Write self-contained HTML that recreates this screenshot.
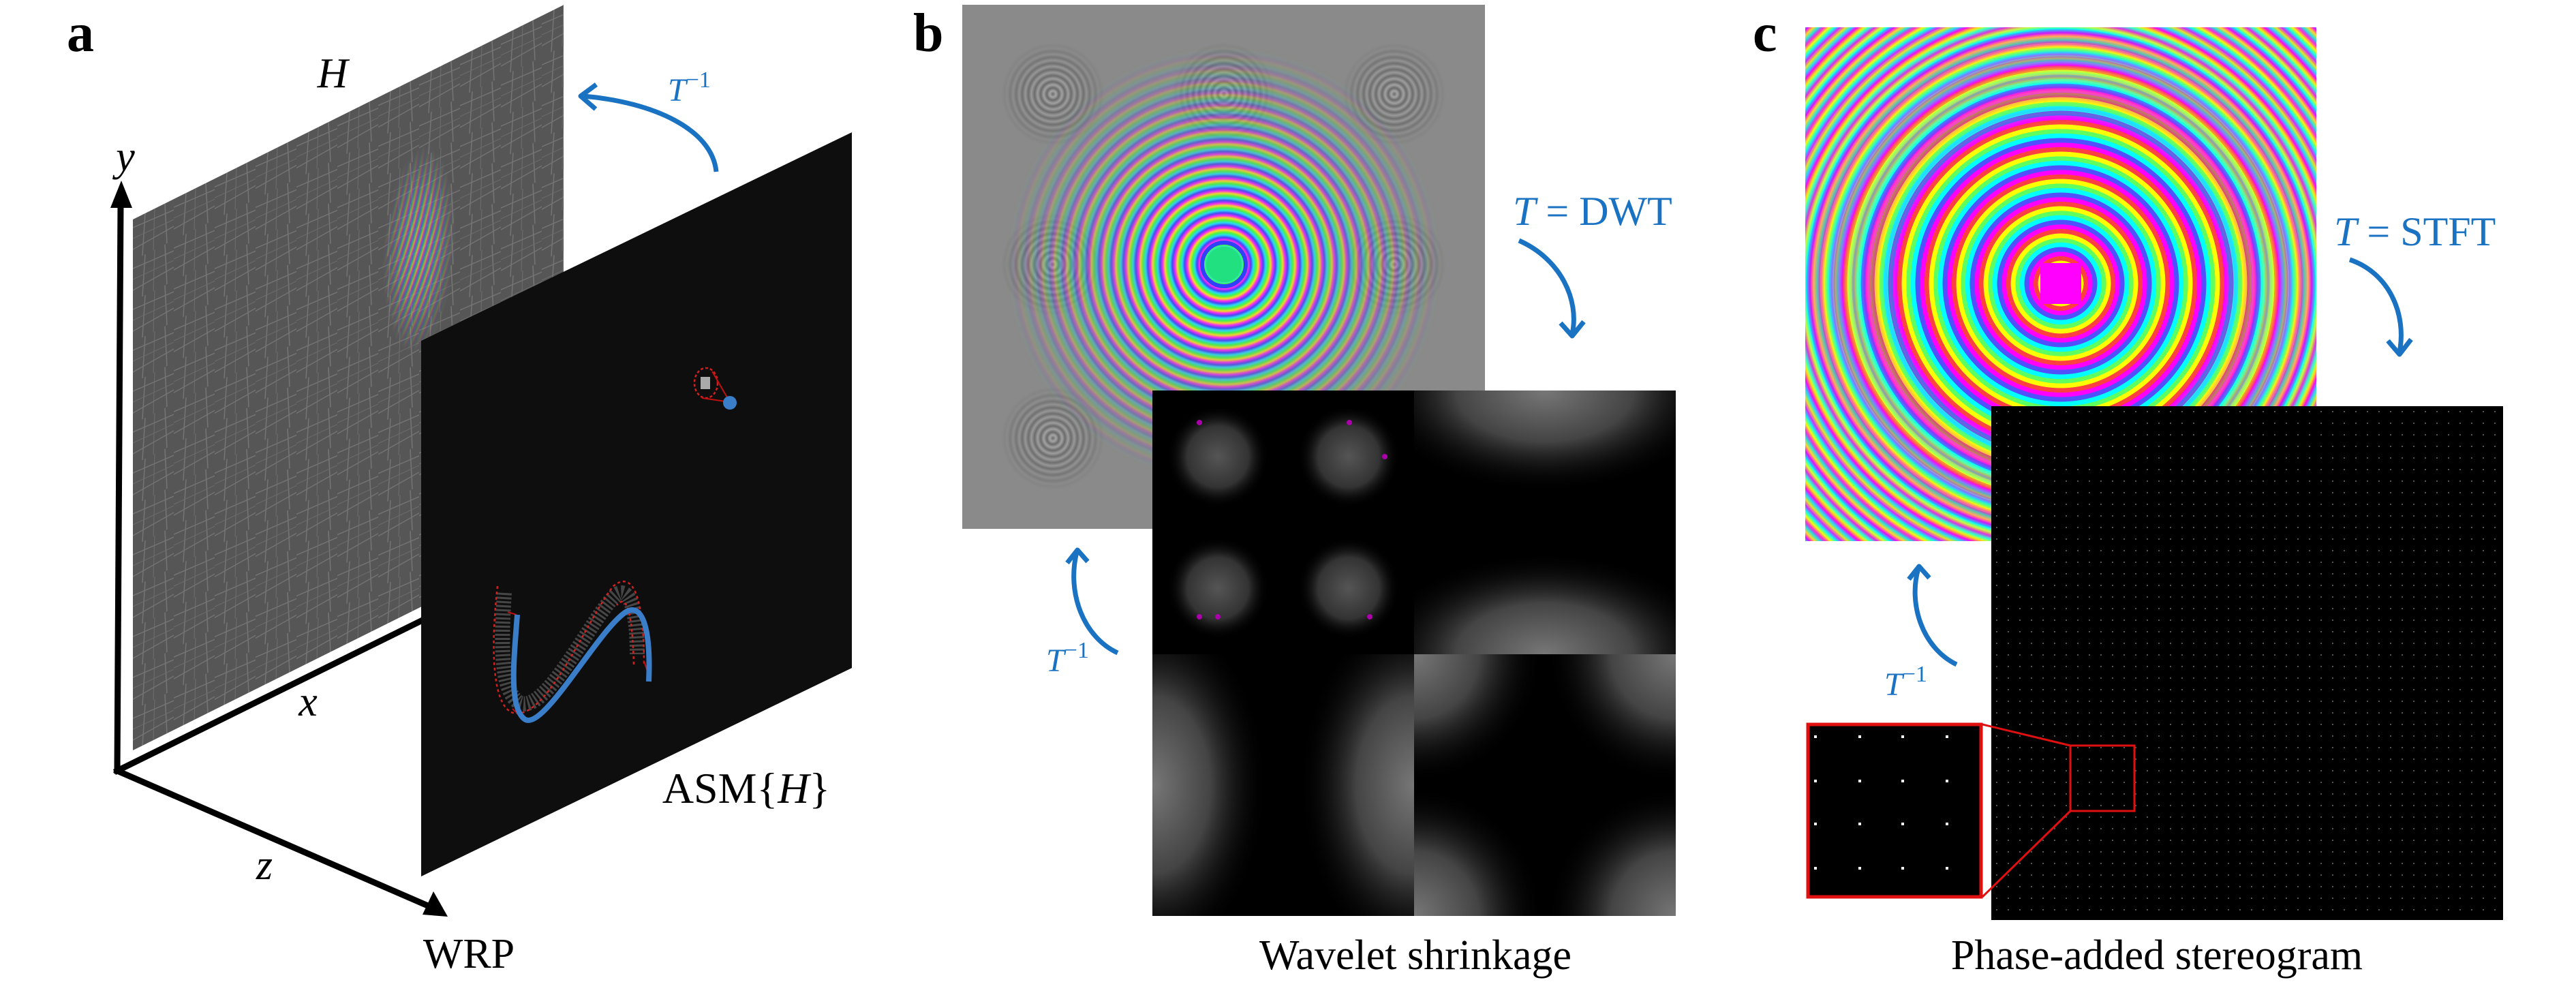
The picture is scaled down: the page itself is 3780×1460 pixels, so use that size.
<!DOCTYPE html>
<html><head><meta charset="utf-8"><style>
html,body{margin:0;padding:0;background:#fff;overflow:hidden;width:3780px;height:1460px;}
svg{display:block;}
text{font-family:"Liberation Serif",serif;}
</style></head><body>
<svg width="3780" height="1460" viewBox="0 0 3780 1460" xmlns="http://www.w3.org/2000/svg">
<defs>
  <pattern id="scratch" width="60" height="60" patternUnits="userSpaceOnUse">
    <rect width="60" height="60" fill="#565656"/>
    <path d="M0 12 L60 16 M0 44 L60 40 M18 0 L14 60 M47 0 L50 60" stroke="#8a8a8a" stroke-width="1.5" opacity="0.6"/>
    <path d="M0 28 L60 30 M32 0 L30 60" stroke="#6e6e6e" stroke-width="1"/>
  </pattern>
  <radialGradient id="rainH" gradientUnits="userSpaceOnUse" cx="0" cy="0" r="14" spreadMethod="repeat">
    <stop offset="0" stop-color="#e03ac0"/><stop offset="0.25" stop-color="#3a6ae0"/>
    <stop offset="0.5" stop-color="#30c070"/><stop offset="0.75" stop-color="#e0c030"/><stop offset="1" stop-color="#e03ac0"/>
  </radialGradient>
  <radialGradient id="fadeH" cx="0.5" cy="0.5" r="0.5">
    <stop offset="0" stop-color="#fff"/><stop offset="0.5" stop-color="#fff" stop-opacity="0.7"/><stop offset="1" stop-color="#fff" stop-opacity="0"/>
  </radialGradient>
  <mask id="mH1" maskUnits="userSpaceOnUse" x="-500" y="-500" width="2000" height="2000"><ellipse cx="420" cy="253" rx="90" ry="150" fill="url(#fadeH)"/></mask>
  <mask id="mH2" maskUnits="userSpaceOnUse" x="-500" y="-500" width="2000" height="2000"><ellipse cx="140" cy="470" rx="80" ry="110" fill="url(#fadeH)"/><ellipse cx="300" cy="430" rx="70" ry="100" fill="url(#fadeH)"/></mask>

  <radialGradient id="rainB" gradientUnits="userSpaceOnUse" cx="1796" cy="388" r="18" spreadMethod="repeat">
    <stop offset="0" stop-color="#ff20ff"/><stop offset="0.2" stop-color="#4040ff"/><stop offset="0.4" stop-color="#20e0ff"/>
    <stop offset="0.6" stop-color="#40ff40"/><stop offset="0.8" stop-color="#ffe020"/><stop offset="1" stop-color="#ff20ff"/>
  </radialGradient>
  <radialGradient id="fadeB" cx="0.5" cy="0.5" r="0.5">
    <stop offset="0" stop-color="#fff"/><stop offset="0.35" stop-color="#fff" stop-opacity="0.85"/><stop offset="1" stop-color="#fff" stop-opacity="0"/>
  </radialGradient>
  <mask id="mB" maskUnits="userSpaceOnUse" x="1412" y="7" width="767" height="769"><circle cx="1796" cy="388" r="320" fill="url(#fadeB)"/></mask>
  <radialGradient id="grayRing" r="0.5" cx="0.5" cy="0.5" spreadMethod="repeat" gradientTransform="scale(0.12) translate(3.666,3.666)">
    <stop offset="0" stop-color="#6a6a6a"/><stop offset="0.5" stop-color="#a8a8a8"/><stop offset="1" stop-color="#6a6a6a"/>
  </radialGradient>
  <radialGradient id="spotFade" cx="0.5" cy="0.5" r="0.5">
    <stop offset="0" stop-color="#fff"/><stop offset="0.6" stop-color="#fff" stop-opacity="0.6"/><stop offset="1" stop-color="#fff" stop-opacity="0"/>
  </radialGradient>
  <mask id="mSpots" maskUnits="userSpaceOnUse" x="1412" y="7" width="767" height="769">
    <circle cx="1545" cy="138" r="75" fill="url(#spotFade)"/><circle cx="1796" cy="138" r="75" fill="url(#spotFade)"/>
    <circle cx="2046" cy="138" r="75" fill="url(#spotFade)"/><circle cx="1545" cy="388" r="75" fill="url(#spotFade)"/>
    <circle cx="2046" cy="388" r="75" fill="url(#spotFade)"/><circle cx="1545" cy="643" r="75" fill="url(#spotFade)"/>
  </mask>
  <radialGradient id="glow" cx="0.5" cy="0.5" r="0.5">
    <stop offset="0" stop-color="#777"/><stop offset="0.5" stop-color="#444"/><stop offset="1" stop-color="#000" stop-opacity="0"/>
  </radialGradient>
  <radialGradient id="glow2" cx="0.5" cy="0.5" r="0.5">
    <stop offset="0" stop-color="#555"/><stop offset="0.6" stop-color="#333"/><stop offset="1" stop-color="#000" stop-opacity="0"/>
  </radialGradient>

  <radialGradient id="rainC" gradientUnits="userSpaceOnUse" cx="3024" cy="416" r="40" spreadMethod="repeat">
    <stop offset="0" stop-color="#ff00ff"/><stop offset="0.16" stop-color="#ff00ff"/>
    <stop offset="0.17" stop-color="#5050ff"/><stop offset="0.33" stop-color="#5050ff"/>
    <stop offset="0.34" stop-color="#00ffff"/><stop offset="0.5" stop-color="#00ffff"/>
    <stop offset="0.51" stop-color="#60ff60"/><stop offset="0.66" stop-color="#60ff60"/>
    <stop offset="0.67" stop-color="#ffff00"/><stop offset="0.83" stop-color="#ffff00"/>
    <stop offset="0.84" stop-color="#ff4040"/><stop offset="1" stop-color="#ff4040"/>
  </radialGradient>
  <radialGradient id="rainC2" gradientUnits="userSpaceOnUse" cx="3024" cy="416" r="16" spreadMethod="repeat">
    <stop offset="0" stop-color="#ff00ff"/><stop offset="0.33" stop-color="#00ffff"/>
    <stop offset="0.66" stop-color="#ffff00"/><stop offset="1" stop-color="#ff00ff"/>
  </radialGradient>
  <radialGradient id="fadeC" cx="0.5" cy="0.5" r="0.5">
    <stop offset="0" stop-color="#000"/><stop offset="0.4" stop-color="#000"/><stop offset="0.7" stop-color="#fff"/><stop offset="1" stop-color="#fff"/>
  </radialGradient>
  <mask id="mC" maskUnits="userSpaceOnUse" x="2649" y="40" width="750" height="754"><circle cx="3024" cy="416" r="560" fill="url(#fadeC)"/></mask>
  <pattern id="dots" x="2922" y="596" width="17" height="17" patternUnits="userSpaceOnUse">
    <rect width="17" height="17" fill="#000"/><rect x="7" y="7" width="2" height="2" fill="#555"/>
  </pattern>
</defs>

<!-- ============ Panel a ============ -->
<text x="98" y="75" font-size="80" font-weight="bold">a</text>

<g transform="translate(195,322) skewY(-26.47)">
  <rect x="0" y="0" width="632" height="779" fill="url(#scratch)"/>
  <rect x="0" y="0" width="632" height="779" fill="url(#rainH)" transform="translate(420,253) scale(0.6,1) translate(-420,-253)" mask="url(#mH1)" opacity="0.9"/>
  <g mask="url(#mH2)" opacity="0.75">
    <rect x="0" y="300" width="632" height="300" fill="url(#rainH)" transform="translate(140,470)"/>
  </g>
</g>

<g stroke="#000" stroke-width="9" fill="none" stroke-linecap="square">
  <line x1="172" y1="1131" x2="177" y2="300"/>
  <line x1="172" y1="1131" x2="620" y2="910"/>
  <line x1="172" y1="1131" x2="630" y2="1330"/>
</g>
<polygon points="178,265 162,305 194,305" fill="#000"/>
<polygon points="657,1345 620,1342 636,1308" fill="#000"/>

<g transform="translate(618,500) skewY(-25.83)">
  <rect x="0" y="0" width="632" height="786" fill="#0e0e0e"/>
</g>
<path d="M740,870 C735,950 735,1010 760,1030 C800,1055 870,900 905,872 C925,860 935,900 935,960" stroke="#555" stroke-width="22" fill="none" stroke-dasharray="3 3" opacity="0.8"/>
<path d="M730,860 C720,950 722,1030 750,1045 C800,1065 860,910 900,860 C930,835 945,880 945,975 M930,975 C928,900 920,870 905,888" stroke="#d02020" stroke-width="2.5" fill="none" stroke-dasharray="4 4"/>
<path d="M752,1040 L770,1057 M945,970 L955,1000 M745,898 L758,902" stroke="#c01010" stroke-width="2" fill="none"/>
<path d="M759,902 C755,960 745,1040 771,1056 C800,1070 880,920 920,897 C945,885 955,930 952,1000" stroke="#3a7dc8" stroke-width="8" fill="none"/>
<rect x="1028" y="553" width="14" height="18" fill="#aaa"/>
<ellipse cx="1036" cy="562" rx="17" ry="22" fill="none" stroke="#d02020" stroke-width="2.5" stroke-dasharray="4 3"/>
<path d="M1045,545 L1071,590 L1030,584" stroke="#c01010" stroke-width="2" fill="none"/>
<circle cx="1071" cy="591" r="10" fill="#3a7dc8"/>

<path d="M1051,252 C1045,190 960,150 856,141" stroke="#1a72c2" stroke-width="7" fill="none"/>
<polyline points="875,124 852,141 874,160" stroke="#1a72c2" stroke-width="7" fill="none" stroke-linejoin="round"/>
<text x="980" y="148" font-size="48" fill="#1a72c2" font-style="italic">T<tspan font-style="normal" font-size="34" dy="-20">−1</tspan></text>

<text x="488" y="128" font-size="62" font-style="italic" text-anchor="middle">H</text>
<text x="184" y="250" font-size="62" font-style="italic" text-anchor="middle">y</text>
<text x="452" y="1050" font-size="62" font-style="italic" text-anchor="middle">x</text>
<text x="388" y="1290" font-size="62" font-style="italic" text-anchor="middle">z</text>
<text x="1095" y="1178" font-size="64" text-anchor="middle">ASM{<tspan font-style="italic">H</tspan>}</text>
<text x="688" y="1420" font-size="62" text-anchor="middle">WRP</text>

<!-- ============ Panel b ============ -->
<text x="1340" y="75" font-size="80" font-weight="bold">b</text>
<rect x="1412" y="7" width="767" height="769" fill="#8a8a8a"/>
<rect x="1412" y="7" width="767" height="769" fill="#6e6e6e" mask="url(#mSpots)"/>
<g mask="url(#mSpots)">
  <circle cx="1545" cy="138" r="75" fill="url(#grayRing)"/>
  <circle cx="1796" cy="138" r="75" fill="url(#grayRing)"/>
  <circle cx="2046" cy="138" r="75" fill="url(#grayRing)"/>
  <circle cx="1545" cy="388" r="75" fill="url(#grayRing)"/>
  <circle cx="2046" cy="388" r="75" fill="url(#grayRing)"/>
  <circle cx="1545" cy="643" r="75" fill="url(#grayRing)"/>
</g>
<rect x="1412" y="7" width="767" height="769" fill="url(#rainB)" mask="url(#mB)"/>
<circle cx="1796" cy="388" r="26" fill="#20e080"/>
<circle cx="1796" cy="388" r="32" fill="none" stroke="#3040ff" stroke-width="6"/>

<rect x="1691" y="573" width="768" height="771" fill="#000"/>
<rect x="1712" y="595" width="150" height="150" fill="url(#glow2)"/>
<rect x="1904" y="595" width="150" height="150" fill="url(#glow2)"/>
<rect x="1712" y="788" width="150" height="150" fill="url(#glow2)"/>
<rect x="1904" y="788" width="150" height="150" fill="url(#glow2)"/>
<g fill="#a0a"><circle cx="1760" cy="620" r="4"/><circle cx="1980" cy="620" r="4"/><circle cx="1760" cy="905" r="4"/><circle cx="2010" cy="905" r="4"/><circle cx="2032" cy="670" r="4"/><circle cx="1787" cy="905" r="4"/></g>
<svg x="2075" y="573" width="384" height="387" overflow="hidden">
  <ellipse cx="192" cy="0" rx="260" ry="150" fill="url(#glow)"/>
  <ellipse cx="192" cy="387" rx="260" ry="150" fill="url(#glow)"/>
</svg>
<svg x="1691" y="960" width="384" height="384" overflow="hidden">
  <ellipse cx="0" cy="192" rx="170" ry="260" fill="url(#glow)"/>
  <ellipse cx="384" cy="192" rx="170" ry="260" fill="url(#glow)"/>
</svg>
<svg x="2075" y="960" width="384" height="384" overflow="hidden">
  <circle cx="0" cy="0" r="190" fill="url(#glow)"/>
  <circle cx="384" cy="0" r="190" fill="url(#glow)"/>
  <circle cx="0" cy="384" r="190" fill="url(#glow)"/>
  <circle cx="384" cy="384" r="190" fill="url(#glow)"/>
</svg>

<path d="M2229,353 C2290,380 2318,440 2307,490" stroke="#1a72c2" stroke-width="7" fill="none"/>
<polyline points="2290,474 2307,493 2324,472" stroke="#1a72c2" stroke-width="7" fill="none" stroke-linejoin="round"/>
<text x="2220" y="330" font-size="60" fill="#1a72c2"><tspan font-style="italic">T</tspan> = DWT</text>
<path d="M1640,958 C1590,935 1565,870 1580,810" stroke="#1a72c2" stroke-width="7" fill="none"/>
<polyline points="1566,826 1581,807 1596,824" stroke="#1a72c2" stroke-width="7" fill="none" stroke-linejoin="round"/>
<text x="1535" y="985" font-size="48" fill="#1a72c2" font-style="italic">T<tspan font-style="normal" font-size="34" dy="-20">−1</tspan></text>
<text x="2077" y="1422" font-size="62" text-anchor="middle">Wavelet shrinkage</text>

<!-- ============ Panel c ============ -->
<text x="2572" y="75" font-size="80" font-weight="bold">c</text>
<rect x="2649" y="40" width="750" height="754" fill="url(#rainC)"/>
<rect x="2649" y="40" width="750" height="754" fill="url(#rainC2)" mask="url(#mC)" opacity="0.85"/>
<rect x="2994" y="386" width="60" height="60" fill="#ff00ff"/>

<rect x="2922" y="596" width="751" height="754" fill="url(#dots)"/>
<rect x="3038" y="1094" width="94" height="96" fill="none" stroke="#e01010" stroke-width="3"/>
<line x1="2909" y1="1063" x2="3038" y2="1094" stroke="#e01010" stroke-width="3"/>
<line x1="2909" y1="1316" x2="3038" y2="1190" stroke="#e01010" stroke-width="3"/>
<rect x="2653" y="1063" width="254" height="253" fill="#000" stroke="#e01010" stroke-width="5"/>
<g fill="#fff">
  <rect x="2662" y="1079" width="4" height="4"/><rect x="2727" y="1079" width="4" height="4"/><rect x="2790" y="1079" width="4" height="4"/><rect x="2855" y="1079" width="4" height="4"/>
  <rect x="2662" y="1144" width="4" height="4"/><rect x="2727" y="1144" width="4" height="4"/><rect x="2790" y="1144" width="4" height="4"/><rect x="2855" y="1144" width="4" height="4"/>
  <rect x="2662" y="1207" width="4" height="4"/><rect x="2727" y="1207" width="4" height="4"/><rect x="2790" y="1207" width="4" height="4"/><rect x="2855" y="1207" width="4" height="4"/>
  <rect x="2662" y="1272" width="4" height="4"/><rect x="2727" y="1272" width="4" height="4"/><rect x="2790" y="1272" width="4" height="4"/><rect x="2855" y="1272" width="4" height="4"/>
</g>

<path d="M3448,381 C3505,400 3532,460 3521,517" stroke="#1a72c2" stroke-width="7" fill="none"/>
<polyline points="3504,500 3521,520 3538,498" stroke="#1a72c2" stroke-width="7" fill="none" stroke-linejoin="round"/>
<text x="3425" y="360" font-size="60" fill="#1a72c2"><tspan font-style="italic">T</tspan> = STFT</text>
<path d="M2871,975 C2820,950 2800,885 2815,834" stroke="#1a72c2" stroke-width="7" fill="none"/>
<polyline points="2801,850 2816,831 2831,848" stroke="#1a72c2" stroke-width="7" fill="none" stroke-linejoin="round"/>
<text x="2765" y="1020" font-size="48" fill="#1a72c2" font-style="italic">T<tspan font-style="normal" font-size="34" dy="-20">−1</tspan></text>
<text x="3165" y="1422" font-size="62" text-anchor="middle">Phase-added stereogram</text>
</svg>
</body></html>
